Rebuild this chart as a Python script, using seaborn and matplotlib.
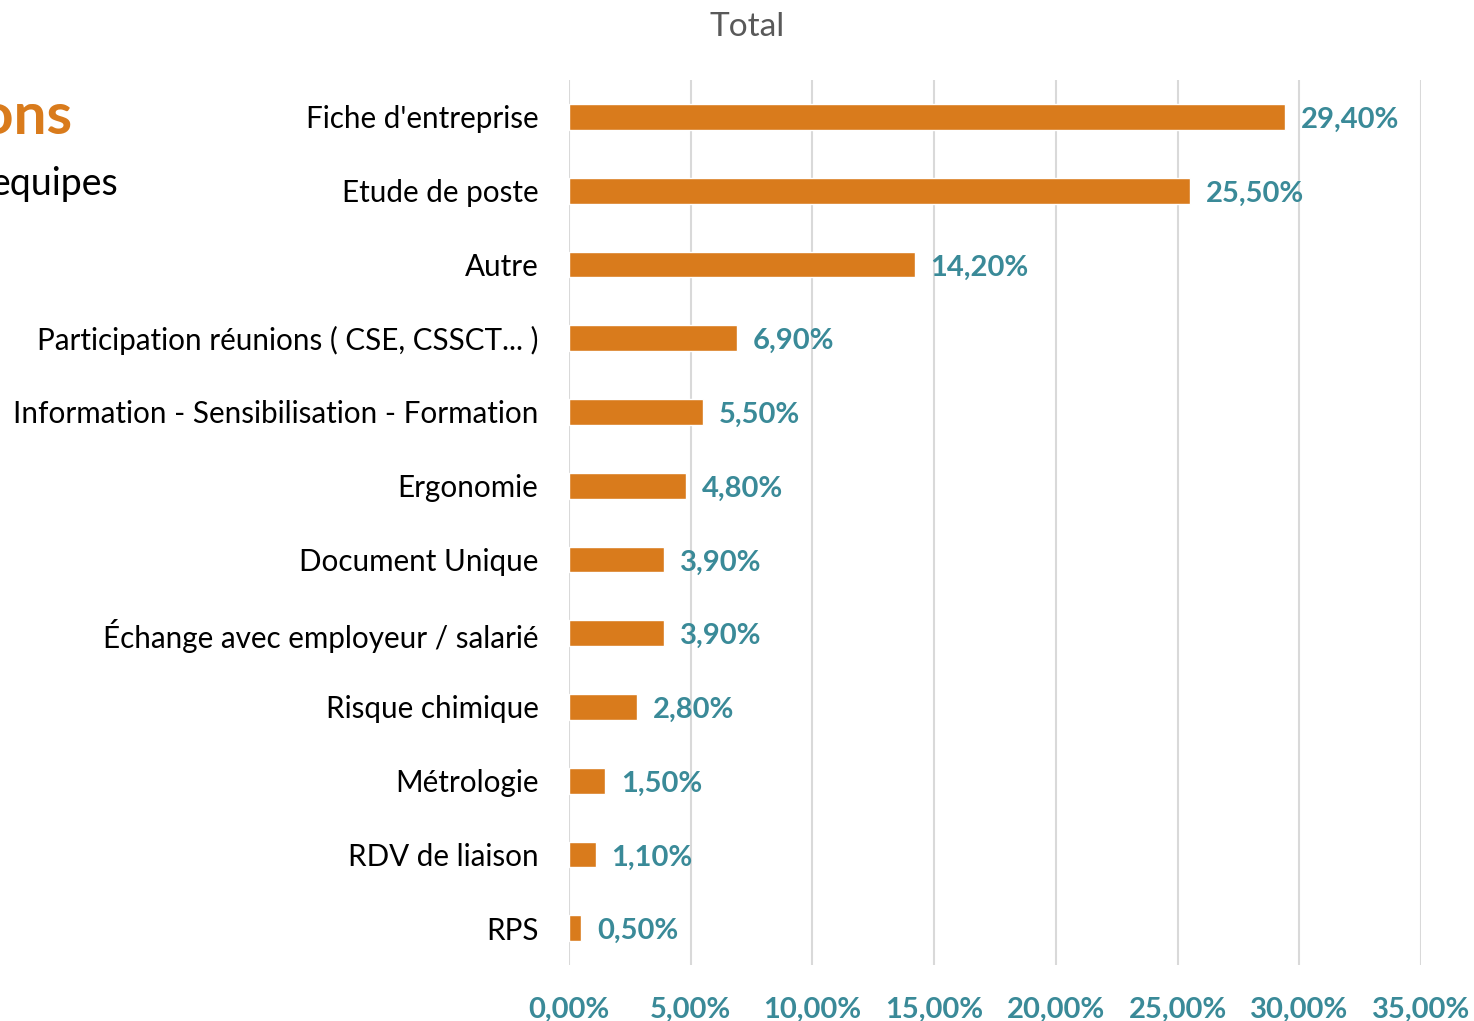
import matplotlib
matplotlib.use("Agg")
import matplotlib.pyplot as plt
import pandas as pd
import seaborn as sns

categories = [
    "Fiche d'entreprise",
    "Etude de poste",
    "Autre",
    "Participation réunions ( CSE, CSSCT... )",
    "Information - Sensibilisation - Formation",
    "Ergonomie",
    "Document Unique",
    "Échange avec employeur / salarié",
    "Risque chimique",
    "Métrologie",
    "RDV de liaison",
    "RPS",
]
values = [29.4, 25.5, 14.2, 6.9, 5.5, 4.8, 3.9, 3.9, 2.8, 1.5, 1.1, 0.5]
xticks = [0, 5, 10, 15, 20, 25, 30, 35]

BAR = "#D97B1C"
TEAL = "#3A8A98"

sns.set_theme(style="white")
plt.rcParams["font.family"] = ["Lato", "DejaVu Sans"]

df = pd.DataFrame({"cat": categories, "val": values})

fig = plt.figure(figsize=(14.74, 10.21), dpi=100)
ax = fig.add_axes([0.386, 0.0548, 0.578, 0.8668])

sns.barplot(data=df, y="cat", x="val", orient="h", color=BAR, width=0.35,
            saturation=1, ax=ax)

ax.set_xlim(0, 35)
ax.set_ylim(11.5, -0.5)
ax.set_xticks(xticks)
ax.set_xticklabels([f"{t:.2f}%".replace(".", ",") for t in xticks],
                   color=TEAL, fontweight="bold", fontsize=21)
ax.tick_params(axis="x", length=0, pad=23)
ax.tick_params(axis="y", length=0, pad=22, labelsize=21.3, labelcolor="black")
ax.xaxis.grid(True, color="#d9d9d9", linewidth=1.5)
ax.set_axisbelow(True)
for s in ax.spines.values():
    s.set_visible(False)
ax.set_xlabel("")
ax.set_ylabel("")

for i, v in enumerate(values):
    ax.text(v + 0.65, i + 0.04, f"{v:.2f}%".replace(".", ","), va="center",
            ha="left", color=TEAL, fontweight="bold", fontsize=21)

fig.text(0.507, 0.974, "Total", ha="center", va="center", color="#595959",
         fontsize=24)
fig.text(0.049, 0.885, "ons", ha="right", va="center", color=BAR,
         fontweight="bold", fontsize=42)
fig.text(0.080, 0.820, "equipes", ha="right", va="center", color="black",
         fontsize=27)

fig.savefig("out.png", dpi=100)
